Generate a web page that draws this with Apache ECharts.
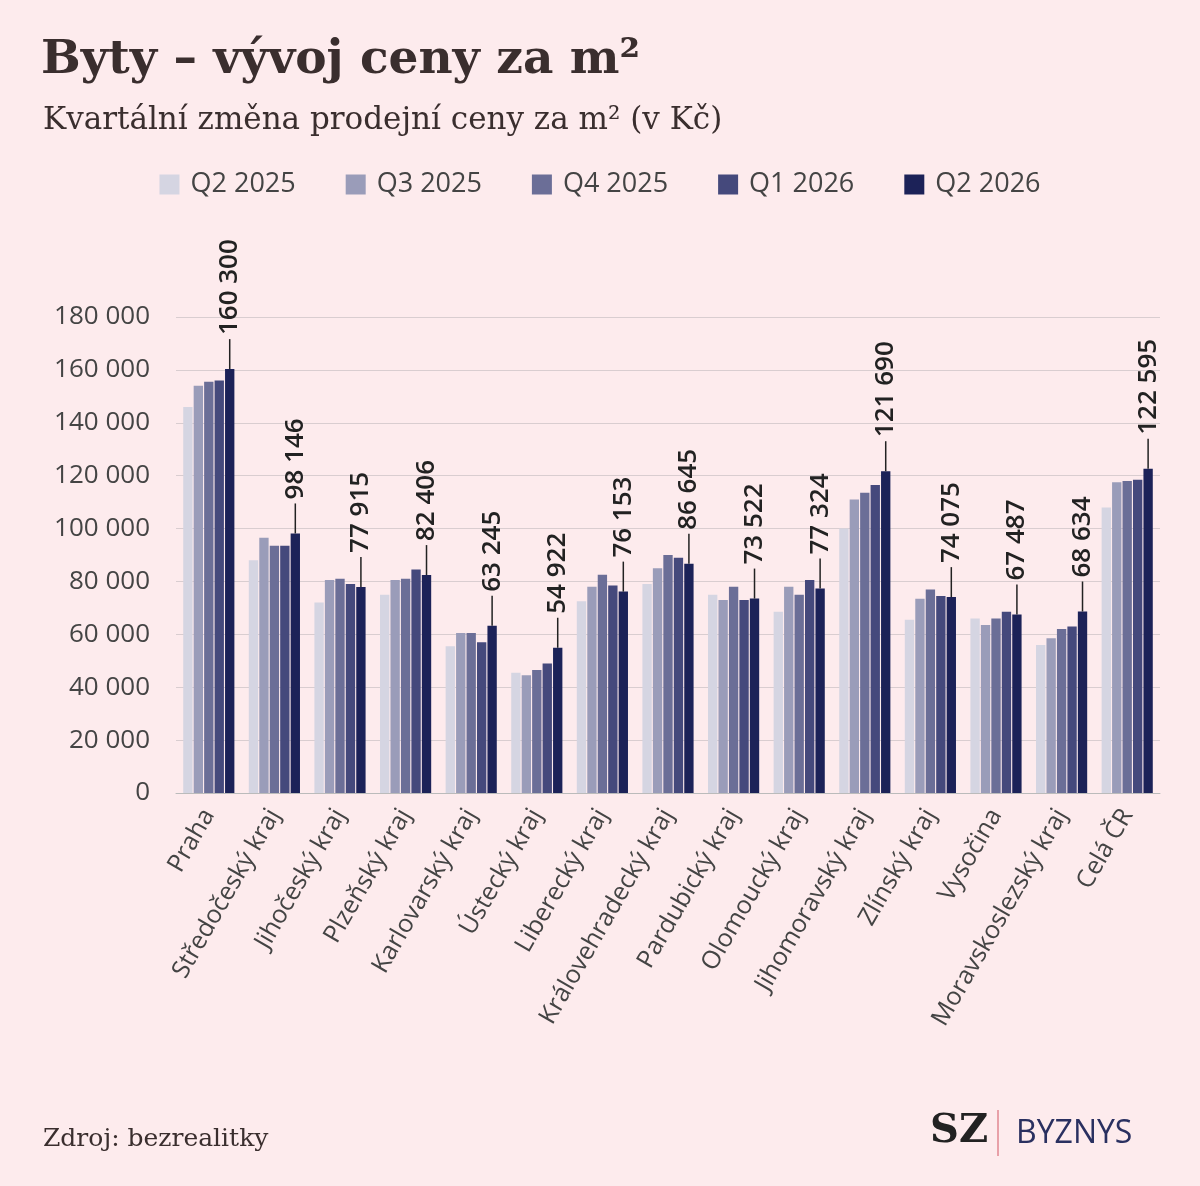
<!DOCTYPE html>
<html lang="cs">
<head>
<meta charset="UTF-8">
<title>Byty</title>
<script src="https://cdn.jsdelivr.net/npm/echarts@6/dist/echarts.min.js"></script>
<style>
  html, body { margin: 0; padding: 0; background: #fdebed; }
  #chart { width: 1200px; height: 1186px; }
</style>
</head>
<body>
<div id="chart"></div>
<script>
var regions = ['Praha', 'Středočeský kraj', 'Jihočeský kraj', 'Plzeňský kraj', 'Karlovarský kraj',
  'Ústecký kraj', 'Liberecký kraj', 'Královehradecký kraj', 'Pardubický kraj', 'Olomoucký kraj',
  'Jihomoravský kraj', 'Zlínský kraj', 'Vysočina', 'Moravskoslezský kraj', 'Celá ČR'];
var quarters = ['Q2 2025', 'Q3 2025', 'Q4 2025', 'Q1 2026', 'Q2 2026'];
var q2_2025 = [146000, 88000, 72000, 75000, 55500, 45500, 72500, 79000, 75000, 68500, 100000, 65500, 66000, 56000, 108000];
var q3_2025 = [154000, 96500, 80500, 80500, 60500, 44500, 78000, 85000, 73000, 78000, 111000, 73500, 63500, 58500, 117500];
var q4_2025 = [155500, 93500, 81000, 81000, 60500, 46500, 82500, 90000, 78000, 75000, 113500, 77000, 66000, 62000, 118000];
var q1_2026 = [156000, 93500, 79000, 84500, 57000, 49000, 78500, 89000, 73000, 80500, 116500, 74500, 68500, 63000, 118500];
var q2_2026 = [160300, 98146, 77915, 82406, 63245, 54922, 76153, 86645, 73522, 77324, 121690, 74075, 67487, 68634, 122595];
var colors = ['#d5d5e2', '#9a9cb9', '#6b6e97', '#45497c', '#1c2258'];

function fmt(v) { return String(v).replace(/\B(?=(\d{3})+(?!\d))/g, ' '); }

var allData = [q2_2025, q3_2025, q4_2025, q1_2026, q2_2026];
var series = allData.map(function (d, i) {
  return {
    name: quarters[i], type: 'bar', data: d,
    barGap: '12%', barCategoryGap: '22%',
    itemStyle: { color: colors[i] }
  };
});
series.push({
  type: 'custom', name: 'labels', data: q2_2026.map(function (v, i) { return [i, v]; }),
  silent: true, z: 10,
  renderItem: function (params, api) {
    var p = api.coord([api.value(0), api.value(1)]);
    var cw = api.size([1, 0])[0];
    var x = p[0] + 0.3188 * cw;
    return {
      type: 'group',
      children: [
        { type: 'line', shape: { x1: x, y1: p[1], x2: x, y2: p[1] - 30 },
          style: { stroke: '#222', lineWidth: 1.5 } },
        { type: 'text', x: x, y: p[1] - 34, rotation: Math.PI / 2,
          style: { text: fmt(api.value(1)), fill: '#222', font: '600 26px "Open Sans", sans-serif',
            textAlign: 'left', textVerticalAlign: 'middle' } }
      ]
    };
  }
});

var chart = echarts.init(document.getElementById('chart'));
chart.setOption({
  backgroundColor: '#fdebed',
  title: [
    { text: 'Byty – vývoj ceny za m²', left: 36, top: 32,
      textStyle: { fontFamily: 'DejaVu Serif', fontWeight: 'bold', fontSize: 47, color: '#3a2e2e' } },
    { text: 'Kvartální změna prodejní ceny za m² (v Kč)', left: 38, top: 100,
      textStyle: { fontFamily: 'DejaVu Serif', fontWeight: 'normal', fontSize: 31, color: '#3a2e2e' } },
    { text: 'Zdroj: bezrealitky', left: 38, top: 1122,
      textStyle: { fontFamily: 'DejaVu Serif', fontWeight: 'normal', fontSize: 25, color: '#3a2e2e' } }
  ],
  legend: {
    data: quarters, top: 166, left: 'center', itemGap: 50,
    itemWidth: 20, itemHeight: 20, icon: 'rect',
    textStyle: { fontFamily: 'Open Sans', fontSize: 27, color: '#444', padding: [0, 0, 0, 6] }
  },
  grid: { left: 176, right: 40, top: 317, height: 476 },
  xAxis: {
    type: 'category', data: regions,
    axisTick: { show: false },
    axisLine: { lineStyle: { color: '#bbb' } },
    axisLabel: { rotate: 60, fontFamily: 'Open Sans', fontSize: 25, color: '#444', margin: 18, interval: 0 }
  },
  yAxis: {
    type: 'value', min: 0, max: 180000, interval: 20000,
    axisLabel: { formatter: fmt, fontFamily: 'Open Sans', fontSize: 26, color: '#444', margin: 26 },
    splitLine: { lineStyle: { color: '#d9cdd0' } }
  },
  series: series,
  graphic: [
    { type: 'text', left: 930, top: 1112,
      style: { text: 'SZ', font: 'bold 40px "DejaVu Serif"', fill: '#222' } },
    { type: 'rect', left: 997, top: 1110, shape: { width: 2, height: 46 }, style: { fill: '#e8a0a8' } },
    { type: 'text', left: 1016, top: 1118,
      style: { text: 'BYZNYS', font: '32px "Open Sans"', fill: '#2a3060' } }
  ]
});
</script>
</body>
</html>
